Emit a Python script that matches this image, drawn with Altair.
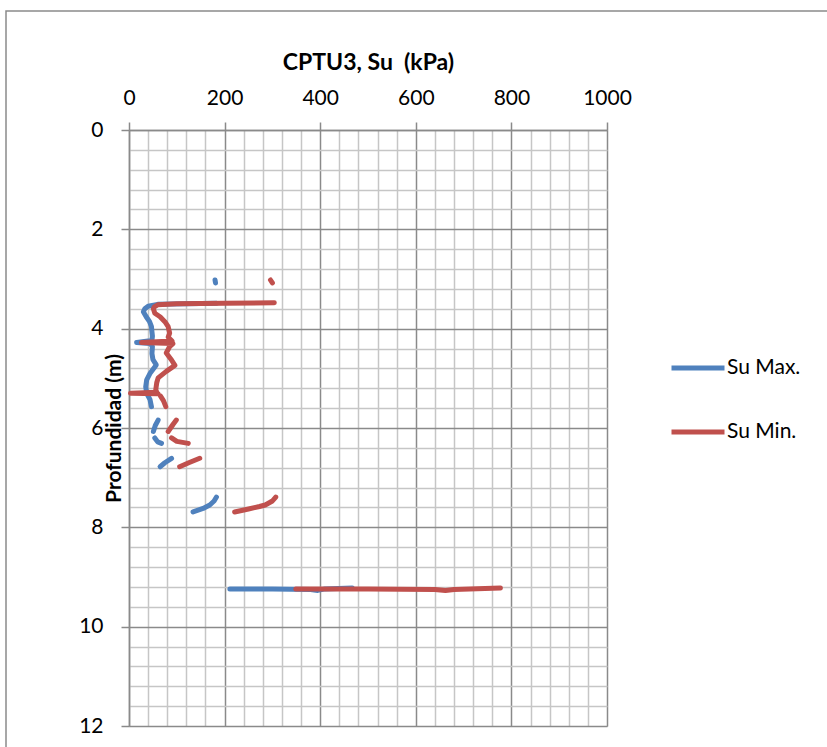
import altair as alt
import pandas as pd

# ---- data ----
series_names = ["Su Max.", "Su Min."]
series_colors = ["#4F81BD", "#C0504D"]

# Su Max. (blue)
max_su = [180, 181,
          183, 120, 60, 40, 33, 30, 36, 43, 47, 48, 49, 48, 16, 45, 49, 48, 50, 57, 50, 44, 37, 35, 37, 44, 47,
          61, 55, 51,
          54, 60, 68,
          65, 75, 89,
          134, 155, 169, 178, 183,
          211, 300, 380, 395, 410, 467]
max_depth = [3.02, 3.08,
             3.49, 3.50, 3.51, 3.55, 3.60, 3.66, 3.76, 3.86, 3.96, 4.06, 4.15, 4.24, 4.28, 4.30, 4.36, 4.50, 4.62, 4.73, 4.82, 4.90, 5.03, 5.17, 5.30, 5.43, 5.57,
             5.84, 5.95, 6.07,
             6.20, 6.28, 6.31,
             6.78, 6.70, 6.61,
             7.69, 7.62, 7.55, 7.47, 7.39,
             9.24, 9.24, 9.25, 9.27, 9.24, 9.22]
max_seg = [0, 0,
           1, 1, 1, 1, 1, 1, 1, 1, 1, 1, 1, 1, 1, 1, 1, 1, 1, 1, 1, 1, 1, 1, 1, 1, 1,
           2, 2, 2,
           3, 3, 3,
           4, 4, 4,
           5, 5, 5, 5, 5,
           6, 6, 6, 6, 6, 6]

# Su Min. (red)
min_su = [296, 300,
          304, 200, 100, 60, 53, 51, 54, 65, 75, 82, 85, 82, 90, 26, 92, 85, 78, 89, 96, 78, 61, 58, 56, 58, 3, 61,
          66, 72, 77,
          99, 92, 82,
          89, 100, 124,
          106, 125, 148,
          221, 250, 273, 285, 300, 307,
          349, 500, 640, 662, 680, 777]
min_depth = [3.02, 3.08,
             3.48, 3.49, 3.50, 3.52, 3.56, 3.60, 3.69, 3.76, 3.86, 3.96, 4.09, 4.17, 4.25, 4.28, 4.30, 4.36, 4.49, 4.63, 4.74, 4.86, 4.99, 5.09, 5.23, 5.28, 5.30, 5.31,
             5.36, 5.45, 5.57,
             5.84, 5.93, 6.07,
             6.20, 6.27, 6.31,
             6.78, 6.70, 6.61,
             7.69, 7.63, 7.58, 7.55, 7.47, 7.39,
             9.24, 9.24, 9.25, 9.27, 9.25, 9.22]
min_seg = [0, 0,
           1, 1, 1, 1, 1, 1, 1, 1, 1, 1, 1, 1, 1, 1, 1, 1, 1, 1, 1, 1, 1, 1, 1, 1, 1, 1,
           2, 2, 2,
           3, 3, 3,
           4, 4, 4,
           5, 5, 5,
           6, 6, 6, 6, 6, 6,
           7, 7, 7, 7, 7, 7]

x_ticks = list(range(0, 1001, 40))
y_ticks = [round(i * 0.4, 1) for i in range(31)]

rows = []
for name, su, dep, seg in [(series_names[0], max_su, max_depth, max_seg),
                           (series_names[1], min_su, min_depth, min_seg)]:
    for i, (s, d, g) in enumerate(zip(su, dep, seg)):
        rows.append({"su": s, "depth": d, "series": name, "seg": f"{name}-{g}", "idx": i})
df = pd.DataFrame(rows)

FONT = "Lato"
MAJ = "#8a8a8a"
MIN = "#c6c6c6"
X_MAJOR = "datum.value % 200 === 0"
Y_MAJOR = "abs(datum.value - 2*round(datum.value/2)) < 0.001"

x_enc = alt.X(
    "su:Q",
    scale=alt.Scale(domain=[0, 1000], nice=False, zero=False),
    axis=alt.Axis(
        orient="top",
        values=x_ticks,
        title="CPTU3, Su \u00a0(kPa)",
        titleFont=FONT, titleFontSize=23, titleFontWeight="bold", titleColor="black",
        titleX=239, titleY=-68, titleAlign="center", titleBaseline="middle",
        labelExpr=f"{X_MAJOR} ? format(datum.value, 'd') : ''",
        labelFont=FONT, labelFontSize=21, labelColor="black", labelPadding=14,
        labelOverlap=False, labelFlush=False,
        grid=True,
        gridColor={"condition": {"test": X_MAJOR, "value": MAJ}, "value": MIN},
        gridWidth=1.5,
        tickSize=8, tickColor=MAJ, tickWidth=1.5,
        tickOpacity={"condition": {"test": X_MAJOR, "value": 1}, "value": 0},
        domainColor=MAJ, domainWidth=1.5,
    ),
)

y_enc = alt.Y(
    "depth:Q",
    scale=alt.Scale(domain=[0, 12], reverse=True, nice=False, zero=False),
    axis=alt.Axis(
        values=y_ticks,
        title="Profundidad (m)",
        titleFont=FONT, titleFontSize=21, titleFontWeight="bold", titleColor="black",
        titleAngle=270, titleX=-15, titleY=298, titleAlign="center", titleBaseline="middle",
        labelExpr=f"{Y_MAJOR} ? format(datum.value, 'd') : ''",
        labelFont=FONT, labelFontSize=21, labelColor="black", labelPadding=18,
        labelOverlap=False, labelFlush=False,
        grid=True,
        gridColor={"condition": {"test": Y_MAJOR, "value": MAJ}, "value": MIN},
        gridWidth=1.5,
        tickSize=8, tickColor=MAJ, tickWidth=1.5,
        tickOpacity={"condition": {"test": Y_MAJOR, "value": 1}, "value": 0},
        domainColor=MAJ, domainWidth=1.5,
    ),
)

color_enc = alt.Color(
    "series:N",
    scale=alt.Scale(domain=series_names, range=series_colors),
    legend=alt.Legend(
        title=None, orient="none", legendX=540, legendY=209,
        symbolType="stroke", symbolSize=2809, symbolStrokeWidth=5,
        labelFont=FONT, labelFontSize=21, labelColor="black", labelOffset=0,
        rowPadding=25, padding=0,
    ),
)

base = alt.Chart(df).mark_line(strokeWidth=5, strokeCap="round", strokeJoin="round").encode(
    x=x_enc, y=y_enc, color=color_enc, detail="seg:N", order="idx:Q"
)

blue = base.transform_filter(alt.datum.series == series_names[0])
red = base.transform_filter(alt.datum.series == series_names[1])

frame = alt.Chart(pd.DataFrame({"k": [0]})).mark_rect(
    fillOpacity=0, stroke="#8a8a8a", strokeWidth=1.5
).encode(
    x=alt.value(-123), x2=alt.value(720), y=alt.value(-119), y2=alt.value(640)
)

chart = alt.layer(frame, blue, red).properties(
    width=478, height=596,
    padding={"left": 129, "top": 130, "right": 220, "bottom": 21},
    autosize=alt.AutoSizeParams(type="none"),
).configure_view(stroke=None).configure(background="white")

chart.save("out.html", embed_options={"renderer": "svg", "actions": False})
